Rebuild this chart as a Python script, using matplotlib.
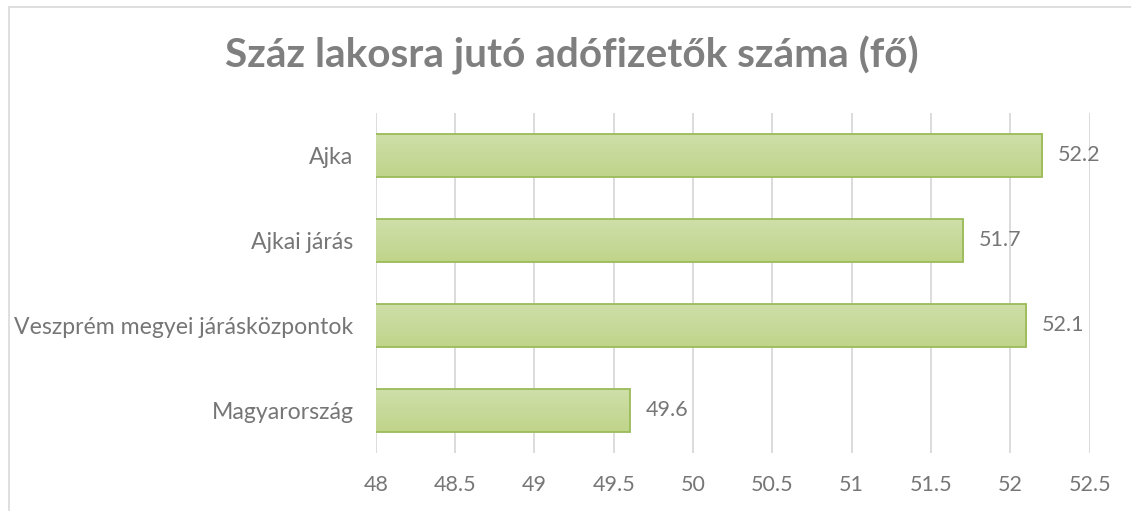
import matplotlib
matplotlib.use("Agg")
import matplotlib.pyplot as plt
import numpy as np
from matplotlib.patches import Rectangle
from matplotlib.colors import LinearSegmentedColormap

categories = ["Ajka", "Ajkai járás", "Veszprém megyei járásközpontok", "Magyarország"]
values = [52.2, 51.7, 52.1, 49.6]
xticks = [48, 48.5, 49, 49.5, 50, 50.5, 51, 51.5, 52, 52.5]
title = "Száz lakosra jutó adófizetők száma (fő)"

plt.rcParams['font.family'] = ['Lato', 'DejaVu Sans']

W, H = 1131, 511
fig = plt.figure(figsize=(W/100, H/100), dpi=100)
ax = fig.add_axes([375.7/W, 1-453/H, (1089.7-375.7)/W, (453-112.7)/H])

y = np.arange(len(categories))
bars = ax.barh(y, values, height=0.5, left=0, color='none', edgecolor='#9bbb59', linewidth=1.3, zorder=3)

cmap = LinearSegmentedColormap.from_list('g', ['#cfdfa9', '#c0d48a'])
grad = np.linspace(0, 1, 64).reshape(-1, 1)
for b, v in zip(bars, values):
    x0 = 48
    yb = b.get_y()
    h = b.get_height()
    ax.imshow(grad, cmap=cmap, aspect='auto', extent=(x0, v, yb + h, yb), zorder=2, interpolation='bilinear')
    ax.text(v + 0.1, b.get_y() + h/2, f"{v:g}", va='center', ha='left', fontsize=15.5, color='#767676')
ax.set_xlim(48, 52.5)
ax.set_ylim(len(categories)-0.5, -0.5)

ax.set_yticks(y)
ax.set_yticklabels(categories, fontsize=16.6, color='#767676')
ax.set_xticks(xticks)
ax.set_xticklabels([f"{t:g}" for t in xticks], fontsize=15.5, color='#767676')
ax.tick_params(axis='both', length=0)
ax.tick_params(axis='y', pad=16)
ax.tick_params(axis='x', pad=16)
ax.grid(axis='x', color='#d9d9d9', linewidth=1.3, zorder=0)
ax.set_axisbelow(True)
for s in ax.spines.values():
    s.set_visible(False)

fig.text(572/W, 1-55/H, title, ha='center', va='center', fontsize=29.2, fontweight='bold', color='#7f7f7f')

fig.patches.append(Rectangle((8.5/W, -0.1), 1.2, 1 - 7.5/H + 0.1, transform=fig.transFigure,
                             fill=False, edgecolor='#d9d9d9', linewidth=1.2))

fig.savefig("out.png", dpi=100)
